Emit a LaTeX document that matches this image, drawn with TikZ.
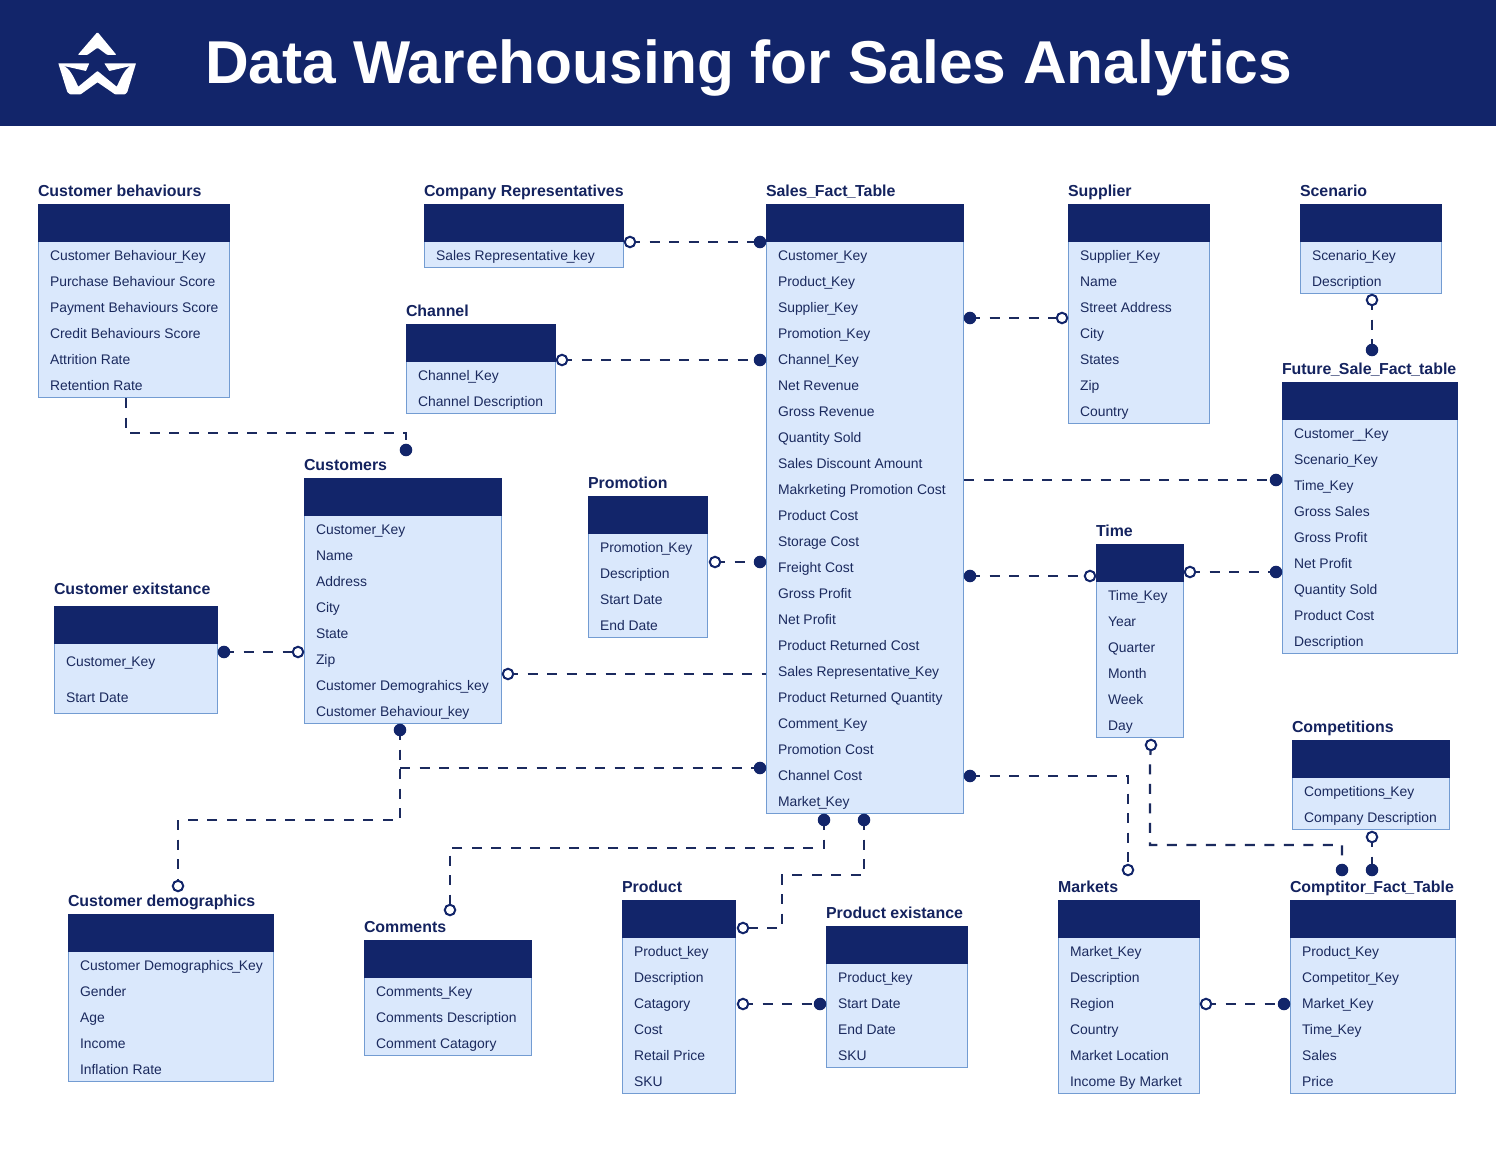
\documentclass[tikz,border=0pt]{standalone}
\usepackage{fontspec}
\setmainfont{Liberation Sans}
\definecolor{navy}{HTML}{12256A}
\definecolor{inkc}{HTML}{1B2A5E}
\definecolor{titlec}{HTML}{14235F}
\definecolor{bodyc}{HTML}{DAE8FC}
\definecolor{edgec}{HTML}{739CD2}
\newcommand{\narrowus}{\kern-1.3pt\textunderscore\kern-1.3pt}
\newcommand{\narrowusb}{\kern-0.7pt\textunderscore\kern-0.7pt}
\tikzset{
  headbox/.style={fill=navy,anchor=north west,inner sep=0pt,outer sep=0pt},
  bodybox/.style={fill=bodyc,draw=edgec,line width=1pt,anchor=north west,inner sep=0pt,outer sep=0pt},
  rowtext/.style={anchor=base west,inner sep=0pt,outer sep=0pt,text=inkc,font=\fontsize{13.9}{17}\selectfont\let\_\narrowus},
  tabletitle/.style={anchor=base west,inner sep=0pt,outer sep=0pt,text=titlec,font=\bfseries\fontsize{15.9}{19}\selectfont\let\_\narrowusb},
  filledend/.style={circle,fill=navy,draw=navy,line width=1pt,minimum size=11.5pt,inner sep=0pt,outer sep=0pt},
  hollowend/.style={circle,fill=white,draw=navy,line width=2pt,minimum size=10.5pt,inner sep=0pt,outer sep=0pt},
  link/.style={draw=inkc,line width=2.2pt,dash pattern=on 10pt off 9.5pt},
}
\newcommand{\titleshift}{0}
% #1 name, #2 x1, #3 y1, #4 x2, #5 y2, #6 title, #7 list of y/text
\newcommand{\dbtable}[7]{%
  \pgfmathsetlengthmacro{\tw}{(#4-#2)*1pt}%
  \pgfmathsetlengthmacro{\th}{(#5-#3)*1pt}%
  \pgfmathsetlengthmacro{\twin}{(#4-#2-1)*1pt}%
  \pgfmathsetlengthmacro{\thin}{(#5-#3-1)*1pt}%
  \node[bodybox,minimum width=\twin,minimum height=\thin] (#1) at (#2+0.5,#3+0.5) {};
  \node[headbox,minimum width=\tw,minimum height=38pt] (#1head) at (#2,#3) {};
  \node[tabletitle] (#1title) at (#2,#3-13+5.6+\titleshift) {#6};
  \foreach \ry/\rt [count=\ri] in {#7} {
    \node[rowtext] (#1row\ri) at (#2+12,\ry+5.2) {\rt};
  }
}
\begin{document}
\begin{tikzpicture}[x=1pt,y=-1pt]
\useasboundingbox (0,0) rectangle (1496,1150);
\fill[white] (0,0) rectangle (1496,1150);
\fill[navy] (0,0) rectangle (1496,126);
\node[anchor=base west,inner sep=0pt,text=white,font=\bfseries\fontsize{60.5}{64}\selectfont] (maintitle) at (205,84) {Data Warehousing for Sales Analytics};
% logo
\fill[white,rounded corners=1pt] (97.5,32) -- (116.5,55) -- (107.3,55) -- (97.5,47.7) -- (87.3,55) -- (77.7,55) -- cycle;
\fill[white,rounded corners=0.5pt] (58.3,63.3) -- (89.3,63.3) -- (86,71) -- (62.7,65.7) .. controls (70,68) and (74,78) .. (78.3,86.7) -- (97.5,71) -- (116.7,86.7) .. controls (121,78) and (125,68) .. (131.7,65.7) -- (109.3,71) -- (104.3,63.3) -- (136,63.3) -- (127.3,92) -- (125,94.3) -- (115,94.3) -- (97.5,82.3) -- (80.7,94.3) -- (70,94.3) -- (67.3,92) -- cycle;

\dbtable{custbeh}{38}{204}{230}{398}{Customer behaviours}{255/Customer Behaviour\_Key,281/Purchase Behaviour Score,307/Payment Behaviours Score,333/Credit Behaviours Score,359/Attrition Rate,385/Retention Rate}
\dbtable{comprep}{424}{204}{624}{268}{Company Representatives}{255/Sales Representative\_key}
\dbtable{sales}{766}{204}{964}{814}{Sales\_Fact\_Table}{255/Customer\_Key,281/Product\_Key,307/Supplier\_Key,333/Promotion\_Key,359/Channel\_Key,385/Net Revenue,411/Gross Revenue,437/Quantity Sold,463/Sales Discount Amount,489/Makrketing Promotion Cost,515/Product Cost,541/Storage Cost,567/Freight Cost,593/Gross Profit,619/Net Profit,645/Product Returned Cost,671/Sales Representative\_Key,697/Product Returned Quantity,723/Comment\_Key,749/Promotion Cost,775/Channel Cost,801/Market\_Key}
\dbtable{supplier}{1068}{204}{1210}{424}{Supplier}{255/Supplier\_Key,281/Name,307/Street Address,333/City,359/States,385/Zip,411/Country}
\dbtable{scenario}{1300}{204}{1442}{294}{Scenario}{255/Scenario\_Key,281/Description}
\dbtable{channel}{406}{324}{556}{414}{Channel}{375/Channel\_Key,401/Channel Description}
\dbtable{customers}{304}{478}{502}{724}{Customers}{529/Customer\_Key,555/Name,581/Address,607/City,633/State,659/Zip,685/Customer Demograhics\_key,711/Customer Behaviour\_key}
\dbtable{promotion}{588}{496}{708}{638}{Promotion}{547/Promotion\_Key,573/Description,599/Start Date,625/End Date}
\renewcommand{\titleshift}{-4}
\dbtable{custexist}{54}{606}{218}{714}{Customer exitstance}{661/Customer\_Key,697/Start Date}
\renewcommand{\titleshift}{0}
\dbtable{future}{1282}{382}{1458}{654}{Future\_Sale\_Fact\_table}{433/Customer\_\_Key,459/Scenario\_Key,485/Time\_Key,511/Gross Sales,537/Gross Profit,563/Net Profit,589/Quantity Sold,615/Product Cost,641/Description}
\dbtable{time}{1096}{544}{1184}{738}{Time}{595/Time\_Key,621/Year,647/Quarter,673/Month,699/Week,725/Day}
\dbtable{competitions}{1292}{740}{1450}{830}{Competitions}{791/Competitions\_Key,817/Company Description}
\dbtable{custdemo}{68}{914}{274}{1082}{Customer demographics}{965/Customer Demographics\_Key,991/Gender,1017/Age,1043/Income,1069/Inflation Rate}
\dbtable{comments}{364}{940}{532}{1056}{Comments}{991/Comments\_Key,1017/Comments Description,1043/Comment Catagory}
\dbtable{product}{622}{900}{736}{1094}{Product}{951/Product\_key,977/Description,1003/Catagory,1029/Cost,1055/Retail Price,1081/SKU}
\dbtable{prodexist}{826}{926}{968}{1068}{Product existance}{977/Product\_key,1003/Start Date,1029/End Date,1055/SKU}
\dbtable{markets}{1058}{900}{1200}{1094}{Markets}{951/Market\_Key,977/Description,1003/Region,1029/Country,1055/Market Location,1081/Income By Market}
\dbtable{comptitor}{1290}{900}{1456}{1094}{Comptitor\_Fact\_Table}{951/Product\_Key,977/Competitor\_Key,1003/Market\_Key,1029/Time\_Key,1055/Sales,1081/Price}

% free ends of connectors
\coordinate (cbstart) at (126,398);
\coordinate (salesA) at (964,480);
\coordinate (salesB) at (766,674);
\coordinate (demoT) at (400,768);

% end markers (named, so the connectors can be drawn between them)
\foreach \nm/\xx/\yy in {a/630/242,b/562/360,c/1062/318,d/1372/300,e/715/562,f/1090/576,g/1190/572,h/298/652,i/508/674,j/178/886,k/1128/870,l/450/910,m/743/928,n/743/1004,o/1206/1004,p/1151/745,q/1372/837}
  \coordinate (open\nm) at (\xx,\yy);
\foreach \nm/\xx/\yy in {a/760/242,b/760/360,c/970/318,d/1372/350,e/406/450,f/760/562,g/970/576,h/1276/572,i/1276/480,j/224/652,k/400/730,l/760/768,m/970/776,n/824/820,o/864/820,p/820/1004,q/1284/1004,r/1342/870,s/1372/870}
  \coordinate (solid\nm) at (\xx,\yy);

% connector links
\path[link] (opena) -- (solida);
\path[link] (openb) -- (solidb);
\path[link] (solidc) -- (openc);
\path[link] (opend) -- (solidd);
\path[link] (cbstart) -- (126,433) -- (406,433) -- (solide);
\path[link] (opene) -- (solidf);
\path[link] (solidg) -- (openf);
\path[link] (openg) -- (solidh);
\path[link] (salesA) -- (solidi);
\path[link] (solidj) -- (openh);
\path[link] (openi) -- (salesB);
\path[link] (solidk) -- (400,820) -- (178,820) -- (openj);
\path[link] (demoT) -- (solidl);
\path[link] (solidm) -- (1128,776) -- (openk);
\path[link] (solidn) -- (824,848) -- (450,848) -- (openl);
\path[link] (solido) -- (864,875) -- (782,875) -- (782,928) -- (openm);
\path[link] (openn) -- (solidp);
\path[link] (openo) -- (solidq);
\path[link] (openp) -- (1150,760) -- (1150,845) -- (1342,845) -- (solidr);
\path[link] (openq) -- (solids);

% markers on top of the links
\foreach \nm/\xx/\yy in {a/630/242,b/562/360,c/1062/318,d/1372/300,e/715/562,f/1090/576,g/1190/572,h/298/652,i/508/674,j/178/886,k/1128/870,l/450/910,m/743/928,n/743/1004,o/1206/1004,p/1151/745,q/1372/837}
  \node[hollowend] (openmark\nm) at (\xx,\yy) {};
\foreach \nm/\xx/\yy in {a/760/242,b/760/360,c/970/318,d/1372/350,e/406/450,f/760/562,g/970/576,h/1276/572,i/1276/480,j/224/652,k/400/730,l/760/768,m/970/776,n/824/820,o/864/820,p/820/1004,q/1284/1004,r/1342/870,s/1372/870}
  \node[filledend] (solidmark\nm) at (\xx,\yy) {};
\end{tikzpicture}
\end{document}
